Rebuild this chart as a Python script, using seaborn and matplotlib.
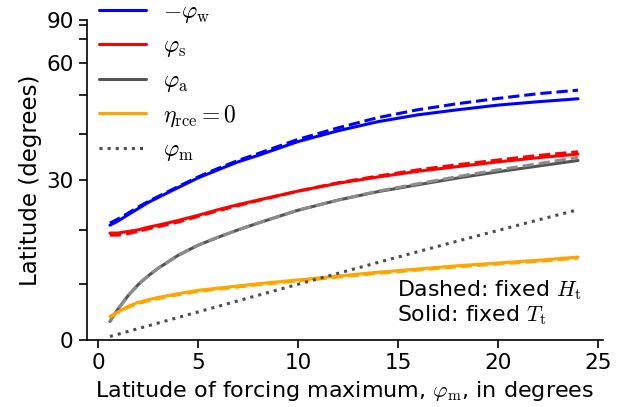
import numpy as np
import pandas as pd
import matplotlib
matplotlib.use('Agg')
import matplotlib.pyplot as plt
import seaborn as sns

# forcing latitude (deg)
phi_m = [0.6, 1, 1.5, 2, 2.5, 3, 4, 5, 6, 7, 8, 10, 12, 14, 16, 18, 20, 22, 24]

# solid: fixed T_t
phi_w_T = [21.0, 21.8, 23.0, 24.2, 25.4, 26.4, 28.4, 30.4, 32.1, 33.8, 35.2, 38.3, 40.8, 43.0, 44.7, 46.0, 47.2, 48.1, 48.9]
phi_s_T = [19.5, 19.5, 19.8, 20.1, 20.6, 21.0, 21.9, 22.9, 24.0, 25.0, 25.9, 27.7, 29.3, 30.6, 31.8, 32.8, 33.8, 34.7, 35.5]
phi_a_T = [3.3, 5.5, 7.9, 9.9, 11.5, 12.9, 15.3, 17.2, 18.7, 20.1, 21.4, 23.9, 25.9, 27.6, 29.0, 30.4, 31.7, 32.9, 34.1]
eta_T = [4.2, 5.0, 6.0, 6.7, 7.2, 7.6, 8.3, 8.9, 9.3, 9.7, 10.1, 10.8, 11.5, 12.2, 12.8, 13.4, 13.9, 14.4, 15.0]

# dashed: fixed H_t
phi_w_H = [21.4, 22.2, 23.3, 24.5, 25.6, 26.6, 28.6, 30.6, 32.4, 34.1, 35.6, 38.8, 41.5, 44.0, 46.0, 47.6, 49.0, 50.3, 51.3]
phi_s_H = [19.1, 19.1, 19.4, 19.8, 20.3, 20.7, 21.6, 22.7, 23.8, 24.8, 25.8, 27.7, 29.4, 30.8, 32.1, 33.2, 34.2, 35.2, 36.0]
phi_a_H = [3.3, 5.5, 7.9, 9.9, 11.5, 12.9, 15.3, 17.2, 18.7, 20.1, 21.4, 23.9, 25.9, 27.7, 29.2, 30.7, 32.1, 33.4, 34.8]
eta_H = [4.1, 4.9, 5.8, 6.5, 7.0, 7.4, 8.1, 8.7, 9.1, 9.5, 9.9, 10.6, 11.3, 12.0, 12.6, 13.2, 13.7, 14.2, 14.8]

labels = [r'$-\varphi_\mathrm{w}$', r'$\varphi_\mathrm{s}$', r'$\varphi_\mathrm{a}$',
          r'$\eta_\mathrm{rce}=0$', r'$\varphi_\mathrm{m}$']

sns.set_style('ticks')
plt.rcParams['font.family'] = ['DejaVu Sans']
plt.rcParams['mathtext.fontset'] = 'cm'
plt.rcParams['font.size'] = 16
for k in ['text.color', 'axes.labelcolor', 'xtick.color', 'ytick.color', 'axes.edgecolor']:
    plt.rcParams[k] = 'black'

fig = plt.figure(figsize=(6.21, 4.07), dpi=100)
ax = fig.add_axes([0.140, 0.165, 0.831, 0.786])

solid_cols = ['blue', 'red', '0.33', 'orange']
dash_cols = ['blue', 'red', '0.55', 'orange']
lw = 2.2

handles = []
for ys, c, lab in zip([phi_w_T, phi_s_T, phi_a_T, eta_T], solid_cols, labels[:4]):
    sns.lineplot(x=phi_m, y=ys, color=c, lw=lw, ax=ax)
    handles.append(ax.lines[-1])
    ax.lines[-1].set_label(lab)
for ys, c in zip([phi_w_H, phi_s_H, phi_a_H, eta_H], dash_cols):
    sns.lineplot(x=phi_m, y=ys, color=c, lw=lw, ls='--', ax=ax)
sns.lineplot(x=phi_m, y=phi_m, color='0.3', lw=lw, ls=':', ax=ax)
ax.lines[-1].set_label(labels[4])
handles.append(ax.lines[-1])

fwd = lambda y: np.sin(np.deg2rad(y))
inv = lambda s: np.rad2deg(np.arcsin(np.clip(s, -1, 1)))
ax.set_yscale('function', functions=(fwd, inv))
ax.set_ylim(0, 90)
ax.set_xlim(-0.55, 25.25)
ax.set_yticks([0, 30, 60, 90])
ax.set_yticks([10, 20, 40, 50, 70, 80], minor=True)
ax.set_yticklabels(['0', '30', '60', '90'])
ax.set_xticks([0, 5, 10, 15, 20, 25])
ax.tick_params(which='both', direction='out', length=6, width=1.2, labelsize=15.5)
ax.tick_params(which='minor', length=6)
for s in ['left', 'bottom']:
    ax.spines[s].set_linewidth(1.2)
sns.despine(ax=ax)

ax.set_xlabel(r'Latitude of forcing maximum, $\varphi_\mathrm{m}$, in degrees', fontsize=16)
ax.set_ylabel('Latitude (degrees)', fontsize=16.5, labelpad=3)

ax.legend(handles=handles, loc='upper left', frameon=False, fontsize=17,
          handlelength=2.0, handletextpad=0.7, labelspacing=0.36, borderaxespad=0.0,
          bbox_to_anchor=(0.005, 1.095))
ax.text(0.6, 0.04, 'Dashed: fixed $H_\\mathrm{t}$\nSolid: fixed $T_\\mathrm{t}$',
        transform=ax.transAxes, fontsize=15.8, va='bottom', ha='left', linespacing=1.1)

fig.savefig('out.png', dpi=100)
